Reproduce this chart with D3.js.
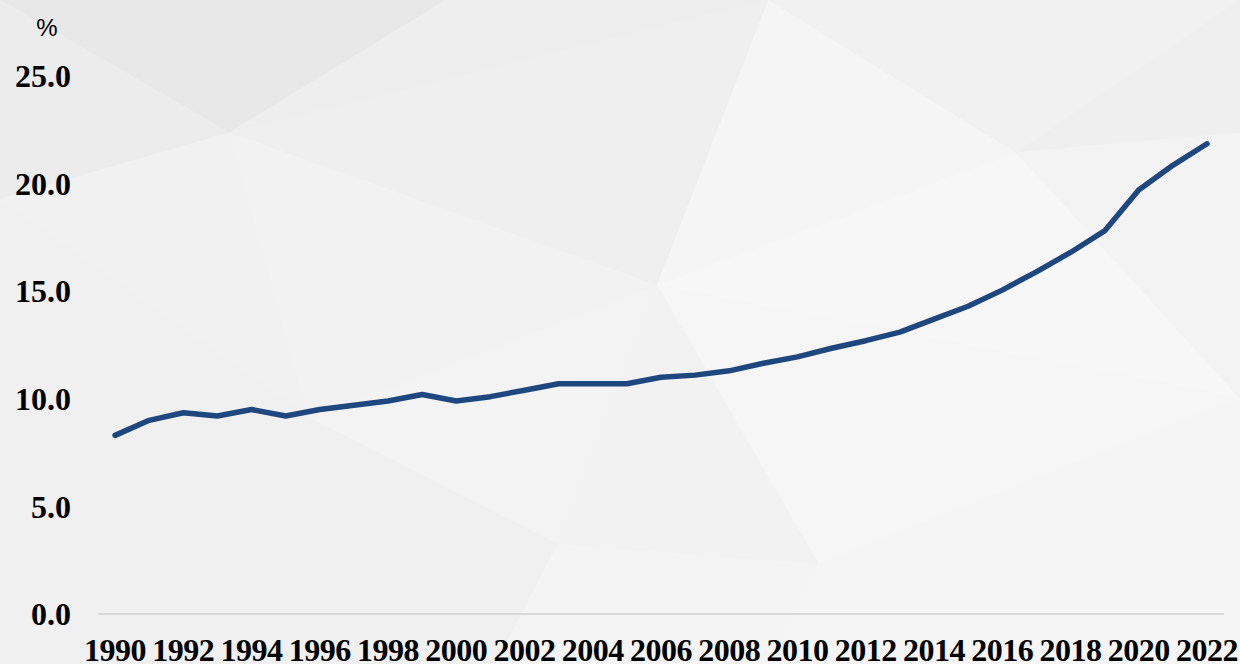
<!DOCTYPE html>
<html>
<head>
<meta charset="utf-8">
<script src="https://cdn.jsdelivr.net/npm/d3@7"></script>
<style>
  html, body { margin: 0; padding: 0; background: #f2f2f2; }
  svg { display: block; }
</style>
</head>
<body>
<div id="chart"></div>
<script>
// data ====================

var years = d3.range(1990, 2023);
var share = [8.3, 9.0, 9.35, 9.2, 9.5, 9.2, 9.5, 9.7, 9.9, 10.2, 9.9,
  10.1, 10.4, 10.7, 10.7, 10.7, 11.0, 11.1, 11.3, 11.65, 11.95,
  12.35, 12.7, 13.1, 13.7, 14.3, 15.05, 15.9, 16.8, 17.8, 19.7, 20.85, 21.85];
var yTicks = [0, 5, 10, 15, 20, 25];
var xTicks = years.filter(function(d) { return d % 2 === 0; });

// background triangles, points in fractions of the page
var shards = [
  { c: "#e8e8e8", p: [[0, 0], [0.36, 0], [0.185, 0.2]] },
  { c: "#ececec", p: [[0, 0], [0.185, 0.2], [0, 0.3]] },
  { c: "#eeeeee", p: [[0.36, 0], [0.62, 0], [0.185, 0.2]] },
  { c: "#efefef", p: [[0.185, 0.2], [0.62, 0], [0.53, 0.43]] },
  { c: "#f5f5f5", p: [[0.62, 0], [0.82, 0.23], [0.53, 0.43]] },
  { c: "#f1f1f1", p: [[0.62, 0], [1, 0], [0.82, 0.23]] },
  { c: "#efefef", p: [[1, 0], [1, 0.2], [0.82, 0.23]] },
  { c: "#f1f1f1", p: [[0, 0.3], [0.185, 0.2], [0.25, 0.63]] },
  { c: "#f2f2f2", p: [[0.185, 0.2], [0.53, 0.43], [0.25, 0.63]] },
  { c: "#f7f7f7", p: [[0.82, 0.23], [1, 0.6], [0.53, 0.43]] },
  { c: "#f3f3f3", p: [[0.82, 0.23], [1, 0.2], [1, 0.6]] },
  { c: "#f0f0f0", p: [[0, 0.3], [0.25, 0.63], [0, 0.82]] },
  { c: "#f3f3f3", p: [[0.25, 0.63], [0.53, 0.43], [0.45, 0.82]] },
  { c: "#f6f6f6", p: [[0.53, 0.43], [1, 0.6], [0.66, 0.85]] },
  { c: "#f2f2f2", p: [[0.53, 0.43], [0.66, 0.85], [0.45, 0.82]] },
  { c: "#f0f0f0", p: [[0, 0.82], [0.25, 0.63], [0.45, 0.82], [0.4, 1], [0, 1]] },
  { c: "#f4f4f4", p: [[0.45, 0.82], [0.66, 0.85], [0.62, 1], [0.4, 1]] },
  { c: "#f5f5f5", p: [[0.66, 0.85], [1, 0.6], [1, 1], [0.62, 1]] }
];

// chart ====================

var width = 1240;
var height = 664;
var margin = { top: 76, right: 16, bottom: 50, left: 98 };

var svg = d3.select('#chart')
  .append('svg')
  .attr('width', width)
  .attr('height', height);

svg.append('g')
  .selectAll('polygon')
  .data(shards)
  .enter()
  .append('polygon')
  .attr('points', function(d) {
    return d.p.map(function(q) { return [q[0] * width, q[1] * height].join(','); }).join(' ');
  })
  .style('fill', function(d) { return d.c; })
  .style('stroke', function(d) { return d.c; })
  .style('stroke-width', 1);

var x = d3.scaleBand()
  .domain(years)
  .range([margin.left, width - margin.right]);

var y = d3.scaleLinear()
  .domain([0, 25])
  .range([height - margin.bottom, margin.top]);

// baseline
svg.append('line')
  .attr('x1', margin.left)
  .attr('x2', width - margin.right)
  .attr('y1', y(0))
  .attr('y2', y(0))
  .style('stroke', '#d9d9d9')
  .style('stroke-width', 2);

svg.append('g')
  .selectAll('text')
  .data(yTicks)
  .enter()
  .append('text')
  .attr('x', 71)
  .attr('y', function(d) { return y(d); })
  .attr('dy', '0.35em')
  .attr('text-anchor', 'end')
  .style('font-family', '"Liberation Serif", "Times New Roman", serif')
  .style('font-weight', 'bold')
  .style('font-size', '32px')
  .style('fill', '#000')
  .text(function(d) { return d.toFixed(1); });

svg.append('g')
  .selectAll('text')
  .data(xTicks)
  .enter()
  .append('text')
  .attr('x', function(d) { return x(d) + x.bandwidth() / 2; })
  .attr('y', 661)
  .attr('text-anchor', 'middle')
  .style('font-family', '"Liberation Serif", "Times New Roman", serif')
  .style('font-weight', 'bold')
  .style('font-size', '32px')
  .style('letter-spacing', '-0.5px')
  .style('fill', '#000')
  .text(function(d) { return d; });

svg.append('text')
  .attr('x', 47)
  .attr('y', 36)
  .attr('text-anchor', 'middle')
  .style('font-family', '"Liberation Sans", Arial, sans-serif')
  .style('font-size', '24px')
  .style('fill', '#000')
  .text('%');

var line = d3.line()
  .x(function(d, i) { return x(years[i]) + x.bandwidth() / 2; })
  .y(function(d) { return y(d); });

svg.append('path')
  .datum(share)
  .attr('d', line)
  .style('fill', 'none')
  .style('stroke', '#1f477f')
  .style('stroke-width', 5.5)
  .style('stroke-linecap', 'round')
  .style('stroke-linejoin', 'round');
</script>
</body>
</html>
